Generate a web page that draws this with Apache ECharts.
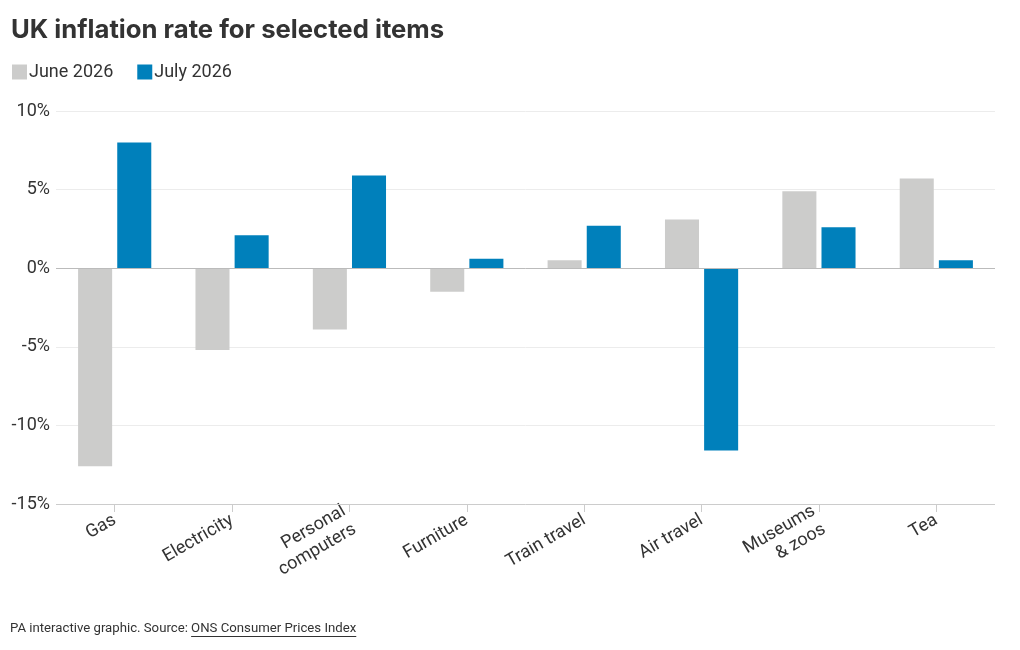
<!DOCTYPE html>
<html>
<head>
<meta charset="utf-8">
<script src="https://cdn.jsdelivr.net/npm/echarts@6/dist/echarts.min.js"></script>
<style>
  html, body { margin: 0; padding: 0; background: #fff; }
  #chart { width: 1020px; height: 650px; }
</style>
</head>
<body>
<div id="chart"></div>
<script>
// items and their monthly inflation rates (%)
var categories = ['Gas', 'Electricity', 'Personal\ncomputers', 'Furniture', 'Train travel', 'Air travel', 'Museums\n& zoos', 'Tea'];
var june2026 = [-12.6, -5.2, -3.9, -1.5, 0.5, 3.1, 4.9, 5.7];
var july2026 = [8.0, 2.1, 5.9, 0.6, 2.7, -11.6, 2.6, 0.5];
var seriesNames = ['June 2026', 'July 2026'];

var font = 'Roboto, sans-serif';
var sourcePrefix = 'PA interactive graphic. Source: ';
var sourceLink = 'ONS Consumer Prices Index';
var footFont = '13.2px Roboto';

// measure footer text so the link underline sits under the right words
var ctx = document.createElement('canvas').getContext('2d');
ctx.font = footFont;
var prefixW = ctx.measureText(sourcePrefix).width;
var linkW = ctx.measureText(sourceLink).width;

var chart = echarts.init(document.getElementById('chart'));

var option = {
  backgroundColor: '#fff',
  color: ['#cccccb', '#0080bb'],
  title: {
    text: 'UK inflation rate for selected items',
    left: 6,
    top: 12,
    textStyle: {
      fontFamily: 'Inter, sans-serif',
      fontSize: 25.7,
      fontWeight: 'bold',
      color: '#333'
    }
  },
  legend: {
    data: seriesNames,
    left: 7,
    top: 58,
    icon: 'rect',
    itemWidth: 15,
    itemHeight: 15,
    itemGap: 24,
    textStyle: {
      fontFamily: font,
      fontSize: 18,
      color: '#333',
      padding: [0, 0, 0, -3]
    }
  },
  grid: {
    left: 56,
    right: 25,
    top: 111,
    bottom: 146,
    containLabel: false
  },
  xAxis: {
    type: 'category',
    data: categories,
    axisLine: { show: false, onZero: false },
    axisTick: {
      show: true,
      alignWithLabel: true,
      length: 8,
      lineStyle: { color: '#ccc' }
    },
    axisLabel: {
      rotate: 30,
      margin: 15,
      fontFamily: font,
      fontSize: 18,
      color: '#333',
      lineHeight: 21
    }
  },
  yAxis: {
    type: 'value',
    min: -15,
    max: 10,
    interval: 5,
    axisLine: { show: false },
    axisTick: { show: false },
    axisLabel: {
      formatter: '{value}%',
      margin: 6,
      fontFamily: font,
      fontSize: 18,
      color: '#333'
    },
    splitLine: {
      lineStyle: { color: '#ececec' }
    }
  },
  series: [{
    name: seriesNames[0],
    type: 'bar',
    data: june2026,
    barWidth: '29%',
    barGap: '15%',
    markLine: {
      silent: true,
      symbol: 'none',
      label: { show: false },
      lineStyle: { color: '#bbb', type: 'solid', width: 1 },
      data: [{ yAxis: 0 }, { yAxis: -15, lineStyle: { color: '#ccc' } }]
    }
  }, {
    name: seriesNames[1],
    type: 'bar',
    data: july2026,
    barWidth: '29%',
    barGap: '15%'
  }],
  graphic: [{
    type: 'text',
    left: 10,
    top: 622,
    style: {
      text: sourcePrefix + sourceLink,
      font: footFont,
      fill: '#333'
    }
  }, {
    type: 'line',
    shape: { x1: 10 + prefixW, y1: 636.5, x2: 10 + prefixW + linkW, y2: 636.5 },
    style: { stroke: '#333', lineWidth: 1 }
  }]
};

chart.setOption(option);
</script>
</body>
</html>
